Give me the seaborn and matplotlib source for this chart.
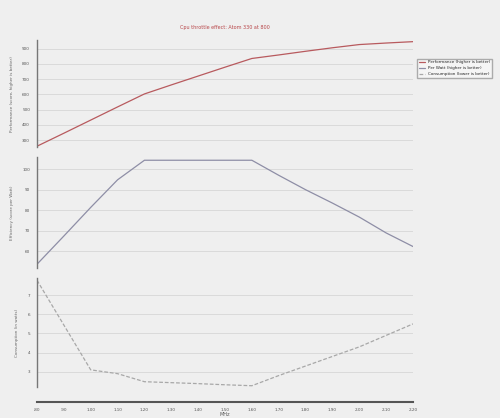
import matplotlib
matplotlib.use('Agg')
import matplotlib.pyplot as plt
import pandas as pd
import seaborn as sns

# ---- dados ----
freq = [0.8, 0.9, 1.0, 1.1, 1.2, 1.3, 1.4, 1.5, 1.6, 1.7, 1.8, 1.9, 2.0, 2.1, 2.2]
performance = [261, 346, 432, 518, 603, 662, 720, 778, 835, 858, 882, 905, 926, 936, 945]
efficiency = [53.8, 67.5, 81.4, 94.8, 104.3, 104.3, 104.3, 104.3, 104.3, 97.0, 90.0, 83.5, 76.7, 69.0, 62.4]
consumption = [7.78, 5.44, 3.10, 2.90, 2.48, 2.43, 2.38, 2.32, 2.27, 2.80, 3.30, 3.80, 4.30, 4.90, 5.50]

x_ticks = [0.8, 0.9, 1.0, 1.1, 1.2, 1.3, 1.4, 1.5, 1.6, 1.7, 1.8, 1.9, 2.0, 2.1, 2.2]
x_tick_labels = ['.80', '.90', '1.00', '1.10', '1.20', '1.30', '1.40', '1.50', '1.60',
                 '1.70', '1.80', '1.90', '2.00', '2.10', '2.20']
perf_ticks = [300, 400, 500, 600, 700, 800, 900]
eff_ticks = [60, 70, 80, 90, 100]
cons_ticks = [3, 4, 5, 6, 7]

labels = ['Performance (higher is better)', 'Per Watt (higher is better)',
          'Consumption (lower is better)']
colors = ['#b85a5e', '#8e8ea6', '#a8a8a8']

df = pd.DataFrame({'freq': freq, 'perf': performance, 'eff': efficiency, 'cons': consumption})

sns.set_style('white', {'axes.facecolor': '#efefef', 'figure.facecolor': '#efefef'})
plt.rcParams['font.family'] = ['DejaVu Sans']

fig = plt.figure(figsize=(5, 4.18), dpi=100)
ax1 = fig.add_axes([0.074, 0.648, 0.752, 0.256])
ax2 = fig.add_axes([0.074, 0.359, 0.752, 0.266])
ax3 = fig.add_axes([0.074, 0.074, 0.752, 0.261])

sns.lineplot(data=df, x='freq', y='perf', ax=ax1, color=colors[0], lw=0.9, label=labels[0], legend=False)
sns.lineplot(data=df, x='freq', y='eff', ax=ax2, color=colors[1], lw=0.9, label=labels[1], legend=False)
sns.lineplot(data=df, x='freq', y='cons', ax=ax3, color=colors[2], lw=0.9, ls=(0, (3, 1.5)),
             label=labels[2], legend=False)

ylabels = ['Performance (score, higher is better)', 'Efficiency (score per Watt)', 'Consumption (in watts)']
for ax, yt, yl in zip([ax1, ax2, ax3], [perf_ticks, eff_ticks, cons_ticks], ylabels):
    ax.set_xlim(0.8, 2.2)
    ax.set_yticks(yt)
    ax.tick_params(axis='y', labelsize=3, colors='#555555', length=3, width=1.5, pad=2)
    ax.grid(axis='y', color='#dadada', lw=0.7)
    ax.set_ylabel(yl, fontsize=3, color='#666666', labelpad=6)
    ax.set_xlabel('')
    for s in ['top', 'right', 'bottom']:
        ax.spines[s].set_visible(False)
    ax.spines['left'].set_color('#777777')
    ax.spines['left'].set_linewidth(1.0)

ax1.set_ylim(255, 955)
ax2.set_ylim(52, 106)
ax3.set_ylim(2.2, 7.9)

ax1.set_xticks([])
ax2.set_xticks([])
ax3.set_xticks(x_ticks)
ax3.set_xticklabels(x_tick_labels)
ax3.spines['bottom'].set_visible(True)
ax3.spines['bottom'].set_position(('outward', 11))
ax3.spines['bottom'].set_color('#555555')
ax3.spines['bottom'].set_linewidth(1.5)
ax3.tick_params(axis='x', labelsize=3, colors='#555555', length=2, pad=2)
ax3.set_xlabel('MHz', fontsize=3.5, color='#555555', labelpad=0)

ax1.set_title('Cpu throttle effect: Atom 330 at 800', fontsize=3.5, color='#b8474a', pad=8)

handles = [ax.get_lines()[0] for ax in [ax1, ax2, ax3]]
leg = fig.legend(handles, labels, loc='upper left', bbox_to_anchor=(0.83, 0.865),
                 fontsize=3, frameon=True, fancybox=False, handlelength=1.5,
                 edgecolor='#999999', facecolor='#f7f7f7')

plt.savefig('out.png', dpi=100, facecolor=fig.get_facecolor())
